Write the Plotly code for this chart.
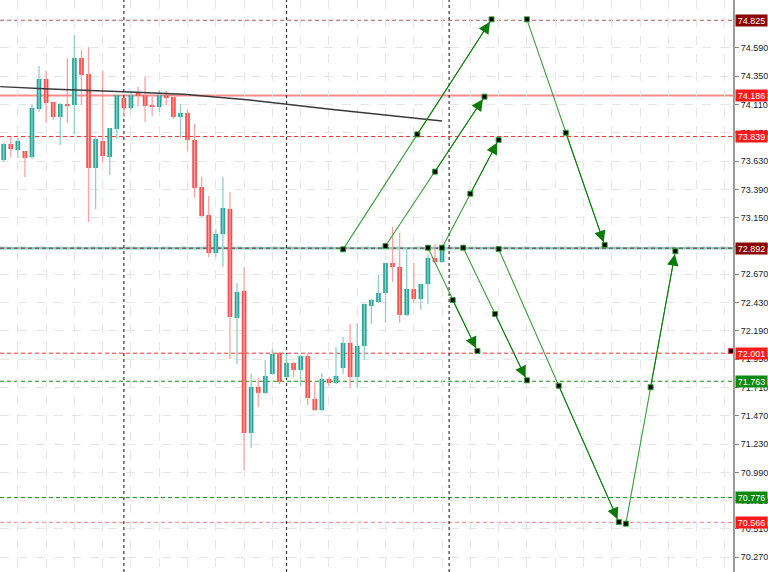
import plotly.graph_objects as go

# ---------------- data ----------------
opens = [73.640, 73.776, 73.725, 73.716, 73.665, 74.072, 74.327, 74.132, 74.005, 74.115,
         74.106, 74.505, 74.369, 73.572, 73.801, 73.665, 73.903, 74.166, 74.081, 74.217,
         74.191, 74.106, 74.089, 74.191, 74.174, 74.005, 74.039, 73.810, 73.411, 73.173,
         72.851, 73.012, 73.224, 72.300, 72.529, 71.324, 71.715, 71.664, 71.825, 72.003,
         71.799, 71.918, 71.859, 71.977, 71.613, 71.519, 71.782, 71.748, 71.875, 72.088,
         71.799, 72.062, 72.402, 72.435, 72.512, 72.766, 72.732, 72.325, 72.546, 72.461,
         72.588, 72.809, 72.775]
highs = [73.784, 73.835, 73.827, 73.716, 74.115, 74.437, 74.395, 74.132, 74.123, 74.505,
         74.700, 74.573, 74.598, 73.843, 74.395, 73.911, 74.191, 74.166, 74.225, 74.259,
         74.344, 74.174, 74.234, 74.225, 74.174, 74.115, 74.064, 73.945, 73.496, 73.335,
         73.055, 73.496, 73.368, 72.597, 72.732, 71.825, 71.791, 71.944, 72.037, 72.011,
         71.994, 71.927, 71.986, 71.994, 71.757, 71.833, 71.799, 72.054, 72.139, 72.249,
         72.257, 72.419, 72.461, 72.664, 72.766, 73.072, 73.021, 72.902, 72.766, 72.588,
         72.843, 72.928, 72.902]
lows = [73.630, 73.665, 73.657, 73.496, 73.648, 74.047, 73.954, 73.979, 73.767, 73.954,
        73.860, 74.106, 73.114, 73.224, 73.623, 73.513, 73.818, 74.005, 74.064, 74.098,
        73.962, 74.013, 74.047, 74.106, 73.988, 73.827, 73.716, 73.318, 73.156, 72.817,
        72.817, 72.732, 71.952, 71.910, 71.010, 71.197, 71.545, 71.655, 71.816, 71.740,
        71.791, 71.799, 71.723, 71.562, 71.511, 71.511, 71.723, 71.740, 71.825, 71.706,
        71.706, 71.944, 72.249, 72.427, 72.257, 72.605, 72.257, 72.317, 72.427, 72.368,
        72.419, 72.775, 72.766]
closes = [73.776, 73.733, 73.801, 73.657, 74.081, 74.327, 74.123, 74.005, 74.115, 74.106,
          74.505, 74.361, 73.572, 73.818, 73.674, 73.911, 74.191, 74.081, 74.191, 74.183,
          74.098, 74.089, 74.191, 74.166, 74.005, 74.039, 73.810, 73.402, 73.165, 72.851,
          73.012, 73.233, 72.308, 72.520, 71.324, 71.715, 71.664, 71.808, 71.994, 71.757,
          71.918, 71.859, 71.977, 71.621, 71.519, 71.782, 71.748, 71.808, 72.088, 71.799,
          72.062, 72.419, 72.452, 72.512, 72.766, 72.732, 72.325, 72.546, 72.461, 72.588,
          72.809, 72.775, 72.892]

# moving-average style line (bar index, price)
ma_x = [-0.5, 6.5, 17, 25.4, 34.8, 46.2, 62]
ma_y = [74.262, 74.242, 74.219, 74.197, 74.149, 74.070, 73.971]

# projection paths: start, middle, end  (bar index, price)
paths = {
    "A": ([48, 58.5, 69], [72.882, 73.857, 74.833]),
    "G": ([74, 79.5, 85], [74.833, 73.871, 72.919]),
    "B": ([54, 61, 68], [72.910, 73.541, 74.177]),
    "C": ([62, 66, 70], [72.896, 73.354, 73.810]),
    "D": ([60, 63.5, 67], [72.896, 72.452, 72.020]),
    "E": ([65, 69.5, 74], [72.896, 72.334, 71.771]),
    "F": ([70, 78.5, 87], [72.885, 71.725, 70.569]),
    "H": ([88, 91.5, 95], [70.555, 71.712, 72.866]),
}

# horizontal levels
level_values = [74.825, 74.186, 73.839, 72.892, 72.001, 71.763, 70.776, 70.566]
level_line_colors = ["#b05a5a", "#ff8a8a", "#ff3030", "#8b2020", "#ff3030", "#109010", "#109010", "#ff8080"]
level_label_colors = ["#8b0000", "#ff1a1a", "#ff1a1a", "#8b0000", "#ff1a1a", "#0a8a0a", "#0a8a0a", "#ff1a1a"]
level_dash = ["4px,3px", "solid", "4px,3px", "4px,3px", "4px,3px", "4px,3px", "4px,3px", "4px,3px"]
level_width = [1, 2, 1, 1, 1, 1, 1, 1]

# day separators (bar index)
separators = [17, 40, 63]

# axis ticks
ytick_vals = [70.27, 70.51, 70.75, 70.99, 71.23, 71.47, 71.71, 71.95, 72.19, 72.43,
              72.67, 72.91, 73.15, 73.39, 73.63, 73.87, 74.11, 74.35, 74.59]
ytick_text = ["70.270", "70.510", "70.750", "70.990", "71.230", "71.470", "71.710", "71.950",
              "72.190", "72.430", "72.670", "72.910", "73.150", "73.390", "73.630", "73.870",
              "74.110", "74.350", "74.590"]
xgrid_vals = list(range(2, 103, 4))

# ---------------- figure ----------------
GREEN = "#26a69a"
RED = "#ef5350"
GREEN_W = "#8fd0c8"
RED_W = "#f7a3a1"
PATH = "#3b9b3b"
ARROW = "#0b7a0b"

fig = go.Figure()

idx = list(range(len(opens)))
up = [i for i in idx if closes[i] >= opens[i]]
dn = [i for i in idx if closes[i] < opens[i]]

# teal current-price line (under candles)
fig.add_shape(type="line", xref="paper", x0=0, x1=1, y0=72.892, y1=72.892,
              line=dict(color="#86cfc6", width=2.5), layer="below")

for lv, lc, dsh, lw in zip(level_values, level_line_colors, level_dash, level_width):
    fig.add_shape(type="line", xref="paper", x0=0, x1=1, y0=lv, y1=lv,
                  line=dict(color=lc, width=lw, dash=dsh), layer="below")

for s in separators:
    fig.add_shape(type="line", x0=s, x1=s, yref="paper", y0=0, y1=1,
                  line=dict(color="#333333", width=1.2, dash="3px,3px"), layer="below")

# wicks
for sel, col in ((up, GREEN_W), (dn, RED_W)):
    wx, wy = [], []
    for i in sel:
        wx += [i, i, None]
        wy += [lows[i], highs[i], None]
    fig.add_trace(go.Scatter(x=wx, y=wy, mode="lines", line=dict(color=col, width=1.3),
                             hoverinfo="skip", showlegend=False))

# bodies
for sel, col in ((up, GREEN), (dn, RED)):
    fig.add_trace(go.Bar(x=sel,
                         y=[max(abs(closes[i] - opens[i]), 0.008) for i in sel],
                         base=[min(opens[i], closes[i]) for i in sel],
                         marker=dict(color=col, line=dict(width=0)),
                         width=0.66, showlegend=False, hoverinfo="skip"))

# MA line
fig.add_trace(go.Scatter(x=ma_x, y=ma_y, mode="lines", line=dict(color="#3a3a3a", width=1.4),
                         showlegend=False, hoverinfo="skip"))

# projection paths
for name, (px, py) in paths.items():
    fig.add_trace(go.Scatter(x=px, y=py, mode="lines+markers",
                             line=dict(color=PATH, width=1.1),
                             marker=dict(symbol="square", size=5, color="black",
                                         line=dict(color="#3aa03a", width=1)),
                             showlegend=False, hoverinfo="skip"))
    fig.add_annotation(x=px[2], y=py[2], ax=px[1], ay=py[1], xref="x", yref="y",
                       axref="x", ayref="y", text="", showarrow=True,
                       arrowhead=2, arrowsize=2.3, arrowwidth=1,
                       arrowcolor=ARROW, standoff=3)

# small marker at right edge
fig.add_trace(go.Scatter(x=[102.85], y=[72.02], mode="markers",
                         marker=dict(symbol="square", size=5, color="black",
                                     line=dict(color="#ff3030", width=1)),
                         showlegend=False, hoverinfo="skip", cliponaxis=False))

# level labels
for lv, bc in zip(level_values, level_label_colors):
    fig.add_annotation(x=1, xref="paper", y=lv, yref="y", xanchor="left", yanchor="middle",
                       xshift=2, text=f"{lv:.3f}", showarrow=False, width=31, height=11,
                       align="center", valign="middle",
                       font=dict(family="Liberation Sans, Arial", size=9, color="white"),
                       bgcolor=bc, borderpad=0)

fig.update_layout(
    width=768, height=572,
    margin=dict(l=0, r=35, t=0, b=0),
    paper_bgcolor="white", plot_bgcolor="white",
    barmode="overlay", showlegend=False,
    font=dict(family="Liberation Sans, Arial", size=9, color="#222222"),
    xaxis=dict(range=[-0.523, 103.15], showticklabels=False, ticks="",
               tickvals=xgrid_vals, showgrid=True, gridcolor="#e6e6e6",
               griddash="dash", gridwidth=1, zeroline=False, showline=False,
               fixedrange=True),
    yaxis=dict(range=[70.145, 74.997], side="right", tickvals=ytick_vals,
               ticktext=ytick_text, ticks="outside", ticklen=4, tickcolor="#888888",
               showline=True, linecolor="#9a9a9a", linewidth=2,
               showgrid=True, gridcolor="#e6e6e6", griddash="dash", gridwidth=1,
               zeroline=False, tickfont=dict(size=9, color="#222222"), fixedrange=True),
)

fig.write_html("out.html", config={"displayModeBar": False},
               post_script="document.body.style.margin='0';document.body.style.overflow='hidden';")
